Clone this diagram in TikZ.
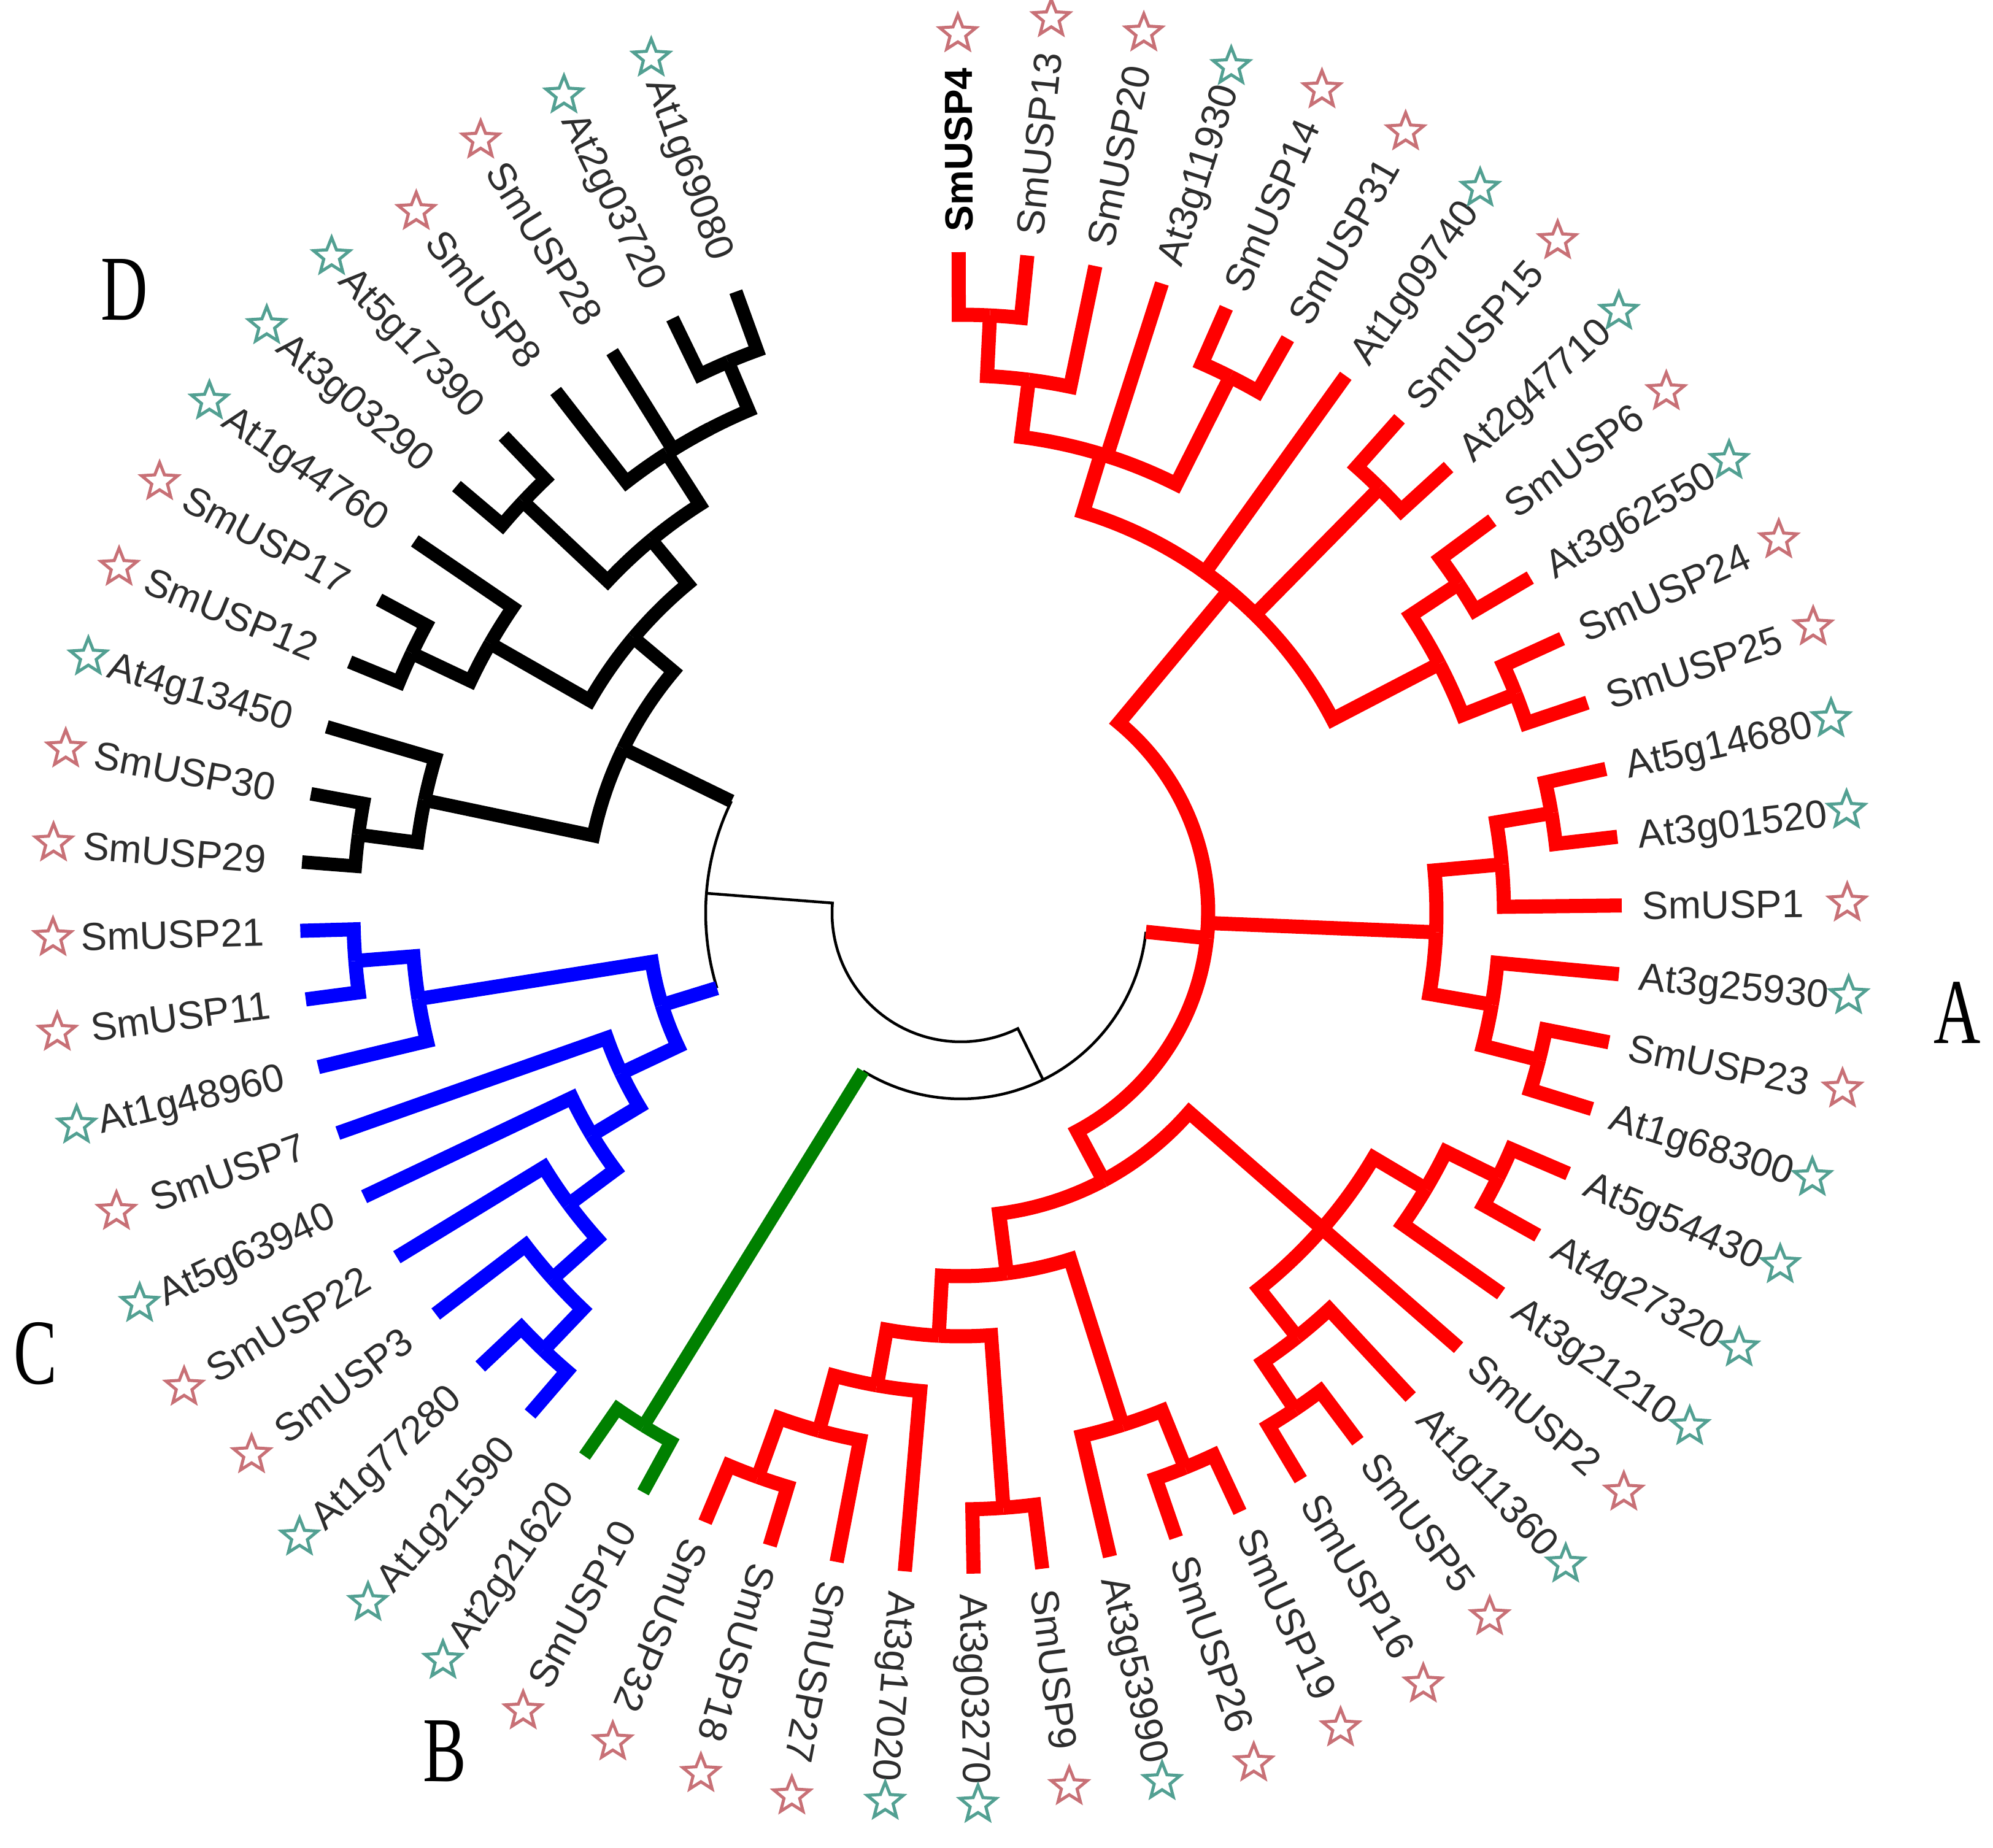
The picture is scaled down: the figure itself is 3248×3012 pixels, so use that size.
\documentclass[tikz,border=0pt]{standalone}
\usepackage{fontspec}
\usetikzlibrary{shapes.geometric}
\newfontfamily\lblfont{Liberation Sans}
\newfontfamily\capfont{Liberation Serif}
\definecolor{cA}{RGB}{255,0,0}
\definecolor{cB}{RGB}{0,128,0}
\definecolor{cC}{RGB}{0,0,255}
\definecolor{lblgray}{RGB}{45,45,45}
\definecolor{smstar}{RGB}{200,112,118}
\definecolor{atstar}{RGB}{82,160,146}
% branch: style, parent angle, parent radius, child angle, child radius
\newcommand{\br}[5]{\draw[#1] (#2:#3) arc[start angle=#2, end angle=#4, radius=#3] -- (#4:#5);}
% branch with different styles for arc and radial
\newcommand{\brx}[6]{\draw[#1] (#3:#4) arc[start angle=#3, end angle=#5, radius=#4]; \draw[#2] (#5:#4) -- (#5:#6);}
% labels: name, angle, text, star type, star distance
\newcommand{\labR}[5]{\node[lbl,anchor=west,rotate=#2] (#1) at (#2:1110) {#3};
  \node[st#4] (#1s) at ([shift={(#2:#5)}]#1.east) {};}
\newcommand{\labL}[5]{\node[lbl,anchor=east,rotate=#2+180] (#1) at (#2:1135) {#3};
  \node[st#4] (#1s) at ([shift={(#2:#5)}]#1.west) {};}
\begin{document}
\begin{tikzpicture}[x=0.01cm,y=0.01cm,
  brA/.style={draw=cA, line width=0.23cm},
  brB/.style={draw=cB, line width=0.21cm},
  brC/.style={draw=cC, line width=0.23cm},
  brD/.style={draw=black, line width=0.22cm},
  brT/.style={draw=black, line width=0.045cm},
  lbl/.style={font=\lblfont\fontsize{18.2pt}{20pt}\selectfont, text=lblgray, inner sep=0pt, text height=13.1pt, text depth=0pt},
  stsm/.style={star, star points=5, star point ratio=2.3, draw=smstar, line width=0.05cm, minimum size=0.62cm, inner sep=0pt},
  stat/.style={stsm, draw=atstar},
  clade/.style={font=\capfont\fontsize{43pt}{43pt}\selectfont, inner sep=0pt, text=black}]
\fill[white] (-1566,-1524) rectangle (1682,1488);
\useasboundingbox (-1566,-1524) rectangle (1682,1488);

% ---------- root (thin) ----------
\br{brT}{-124.1}{210}{-184.42}{416}
\br{brT}{-124.1}{210}{-63.78}{303}
\brx{brT}{brA}{-63.78}{303}{-5.83}{403}
\brx{brT}{brB}{-63.78}{303}{-121.735}{983}
\brx{brT}{brC}{-184.42}{416}{-162.87}{510}
\brx{brT}{brD}{-184.42}{416}{-205.965}{612}

% ---------- clade A (red) ----------
\br{brA}{87.215}{975}{90.20}{1077}
\br{brA}{87.215}{975}{84.23}{1077}
\br{brA}{82.74}{876}{87.215}{975}
\br{brA}{82.74}{876}{78.26}{1077}
\br{brA}{63.335}{978}{66.32}{1077}
\br{brA}{63.335}{978}{60.35}{1077}
\br{brA}{73.04}{782}{82.74}{876}
\br{brA}{73.04}{782}{72.29}{1077}
\br{brA}{73.04}{782}{63.335}{978}
\br{brA}{45.425}{972}{48.41}{1077}
\br{brA}{45.425}{972}{42.44}{1077}
\br{brA}{33.485}{972}{36.47}{1077}
\br{brA}{33.485}{972}{30.50}{1077}
\br{brA}{21.545}{972}{24.53}{1077}
\br{brA}{21.545}{972}{18.56}{1077}
\br{brA}{27.515}{879}{33.485}{972}
\br{brA}{27.515}{879}{21.545}{972}
\br{brA}{50.28}{683}{73.04}{782}
\br{brA}{50.28}{683}{54.38}{1077}
\br{brA}{50.28}{683}{45.425}{972}
\br{brA}{50.28}{683}{27.515}{879}
\br{brA}{9.605}{976}{12.59}{1077}
\br{brA}{9.605}{976}{6.62}{1077}
\br{brA}{5.13}{885}{9.605}{976}
\br{brA}{5.13}{885}{0.65}{1077}
\br{brA}{-14.275}{972}{-11.29}{1077}
\br{brA}{-14.275}{972}{-17.26}{1077}
\br{brA}{-9.80}{878}{-5.32}{1077}
\br{brA}{-9.80}{878}{-14.275}{972}
\br{brA}{-2.335}{775}{5.13}{885}
\br{brA}{-2.335}{775}{-9.80}{878}
\br{brA}{-26.215}{976}{-23.23}{1077}
\br{brA}{-26.215}{976}{-29.20}{1077}
\br{brA}{-30.69}{881}{-26.215}{976}
\br{brA}{-30.69}{881}{-35.17}{1077}
\br{brA}{-56.065}{975}{-53.08}{1077}
\br{brA}{-56.065}{975}{-59.05}{1077}
\br{brA}{-51.59}{882}{-47.11}{1077}
\br{brA}{-51.59}{882}{-56.065}{975}
\br{brA}{-41.14}{782}{-30.69}{881}
\draw[brA] (-41.14:782) -- (-41.14:1077);
\br{brA}{-41.14}{782}{-51.59}{882}
\br{brA}{-68.005}{975}{-65.02}{1077}
\br{brA}{-68.005}{975}{-70.99}{1077}
\br{brA}{-72.48}{875}{-68.005}{975}
\br{brA}{-72.48}{875}{-76.96}{1077}
\br{brA}{-85.915}{972}{-82.93}{1077}
\br{brA}{-85.915}{972}{-88.90}{1077}
\br{brA}{-109.795}{977}{-106.81}{1077}
\br{brA}{-109.795}{977}{-112.78}{1077}
\br{brA}{-105.32}{875}{-100.84}{1077}
\br{brA}{-105.32}{875}{-109.795}{977}
\br{brA}{-100.09}{782}{-94.87}{1077}
\br{brA}{-100.09}{782}{-105.32}{875}
\br{brA}{-93.0}{690}{-85.915}{972}
\br{brA}{-93.0}{690}{-100.09}{782}
\br{brA}{-82.74}{592}{-72.48}{875}
\br{brA}{-82.74}{592}{-93.0}{690}
\br{brA}{-61.94}{494}{-41.14}{782}
\br{brA}{-61.94}{494}{-82.74}{592}
\br{brA}{-5.83}{403}{50.28}{683}
\br{brA}{-5.83}{403}{-2.335}{775}
\br{brA}{-5.83}{403}{-61.94}{494}

% ---------- clade B (green) ----------
\br{brB}{-121.735}{983}{-118.75}{1077}
\br{brB}{-121.735}{983}{-124.72}{1077}

% ---------- clade C (blue) ----------
\br{brC}{-133.675}{985}{-130.69}{1077}
\br{brC}{-133.675}{985}{-136.66}{1077}
\br{brC}{-138.15}{893}{-133.675}{985}
\br{brC}{-138.15}{893}{-142.63}{1077}
\br{brC}{-143.375}{796}{-138.15}{893}
\br{brC}{-143.375}{796}{-148.60}{1077}
\br{brC}{-148.97}{702}{-143.375}{796}
\br{brC}{-148.97}{702}{-154.57}{1077}
\br{brC}{-154.755}{612}{-148.97}{702}
\br{brC}{-154.755}{612}{-160.54}{1077}
\br{brC}{-175.465}{990}{-172.48}{1077}
\br{brC}{-175.465}{990}{-178.45}{1077}
\br{brC}{-170.99}{895}{-166.51}{1077}
\br{brC}{-170.99}{895}{-175.465}{990}
\br{brC}{-162.87}{510}{-154.755}{612}
\br{brC}{-162.87}{510}{-170.99}{895}

% ---------- clade D (black) ----------
\br{brD}{-187.405}{990}{-184.42}{1077}
\br{brD}{-187.405}{990}{-190.39}{1077}
\br{brD}{-191.88}{893}{-187.405}{990}
\br{brD}{-191.88}{893}{-196.36}{1077}
\br{brD}{-205.315}{990}{-202.33}{1077}
\br{brD}{-205.315}{990}{-208.30}{1077}
\br{brD}{-209.79}{884}{-205.315}{990}
\br{brD}{-209.79}{884}{-214.27}{1077}
\br{brD}{-223.225}{979}{-220.24}{1077}
\br{brD}{-223.225}{979}{-226.21}{1077}
\br{brD}{-247.105}{975}{-244.12}{1077}
\br{brD}{-247.105}{975}{-250.09}{1077}
\br{brD}{-242.63}{889}{-238.15}{1077}
\br{brD}{-242.63}{889}{-247.105}{975}
\br{brD}{-237.4}{889}{-232.18}{1077}
\br{brD}{-237.4}{889}{-242.63}{889}
\br{brD}{-230.31}{790}{-223.225}{979}
\br{brD}{-230.31}{790}{-237.4}{889}
\br{brD}{-220.05}{697}{-209.79}{884}
\br{brD}{-220.05}{697}{-230.31}{790}
\br{brD}{-205.965}{612}{-191.88}{893}
\br{brD}{-205.965}{612}{-220.05}{697}

% ---------- labels ----------
\labR{l0}{90.20}{\textcolor{black}{\bfseries SmUSP4}}{sm}{55}
\labR{l1}{84.23}{SmUSP13}{sm}{55}
\labR{l2}{78.26}{SmUSP20}{sm}{55}
\labR{l3}{72.29}{At3g11930}{at}{32}
\labR{l4}{66.32}{SmUSP14}{sm}{55}
\labR{l5}{60.35}{SmUSP31}{sm}{55}
\labR{l6}{54.38}{At1g09740}{at}{32}
\labR{l7}{48.41}{SmUSP15}{sm}{55}
\labR{l8}{42.44}{At2g47710}{at}{32}
\labR{l9}{36.47}{SmUSP6}{sm}{55}
\labR{l10}{30.50}{At3g62550}{at}{32}
\labR{l11}{24.53}{SmUSP24}{sm}{55}
\labR{l12}{18.56}{SmUSP25}{sm}{55}
\labR{l13}{12.59}{At5g14680}{at}{32}
\labR{l14}{6.62}{At3g01520}{at}{32}
\labR{l15}{0.65}{SmUSP1}{sm}{70}
\labR{l16}{-5.32}{At3g25930}{at}{32}
\labR{l17}{-11.29}{SmUSP23}{sm}{55}
\labR{l18}{-17.26}{At1g68300}{at}{32}
\labR{l19}{-23.23}{At5g54430}{at}{32}
\labR{l20}{-29.20}{At4g27320}{at}{32}
\labR{l21}{-35.17}{At3g21210}{at}{32}
\labR{l22}{-41.14}{SmUSP2}{sm}{60}
\labR{l23}{-47.11}{At1g11360}{at}{32}
\labR{l24}{-53.08}{SmUSP5}{sm}{60}
\labR{l25}{-59.05}{SmUSP16}{sm}{55}
\labR{l26}{-65.02}{SmUSP19}{sm}{55}
\labR{l27}{-70.99}{SmUSP26}{sm}{55}
\labR{l28}{-76.96}{At3g53990}{at}{32}
\labR{l29}{-82.93}{SmUSP9}{sm}{60}
\labR{l30}{-88.90}{At3g03270}{at}{32}
\labR{l31}{-94.87}{At3g17020}{at}{32}
\labR{l32}{-100.84}{SmUSP27}{sm}{55}
\labR{l33}{-106.81}{SmUSP18}{sm}{55}
\labR{l34}{-112.78}{SmUSP32}{sm}{55}
\labL{l35}{-118.75}{SmUSP10}{sm}{48}
\labL{l36}{-124.72}{At2g21620}{at}{36}
\labL{l37}{-130.69}{At1g21590}{at}{36}
\labL{l38}{-136.66}{At1g77280}{at}{36}
\labL{l39}{-142.63}{SmUSP3}{sm}{55}
\labL{l40}{-148.60}{SmUSP22}{sm}{48}
\labL{l41}{-154.57}{At5g63940}{at}{36}
\labL{l42}{-160.54}{SmUSP7}{sm}{60}
\labL{l43}{-166.51}{At1g48960}{at}{36}
\labL{l44}{-172.48}{SmUSP11}{sm}{55}
\labL{l45}{-178.45}{SmUSP21}{sm}{45}
\labL{l46}{-184.42}{SmUSP29}{sm}{48}
\labL{l47}{-190.39}{SmUSP30}{sm}{48}
\labL{l48}{-196.36}{At4g13450}{at}{36}
\labL{l49}{-202.33}{SmUSP12}{sm}{48}
\labL{l50}{-208.30}{SmUSP17}{sm}{48}
\labL{l51}{-214.27}{At1g44760}{at}{36}
\labL{l52}{-220.24}{At3g03290}{at}{36}
\labL{l53}{-226.21}{At5g17390}{at}{36}
\labL{l54}{-232.18}{SmUSP8}{sm}{48}
\labL{l55}{-238.15}{SmUSP28}{sm}{48}
\labL{l56}{-244.12}{At2g03720}{at}{36}
\labL{l57}{-250.09}{At1g69080}{at}{36}

% ---------- clade letters ----------
\node[clade] (cladeA) at (1624,-163) {\scalebox{0.7}[1]{A}};
\node[clade] (cladeB) at (-841,-1366) {\scalebox{0.7}[1]{B}};
\node[clade] (cladeC) at (-1508,-718) {\scalebox{0.7}[1]{C}};
\node[clade] (cladeD) at (-1363,1016) {\scalebox{0.7}[1]{D}};
\end{tikzpicture}
\end{document}
